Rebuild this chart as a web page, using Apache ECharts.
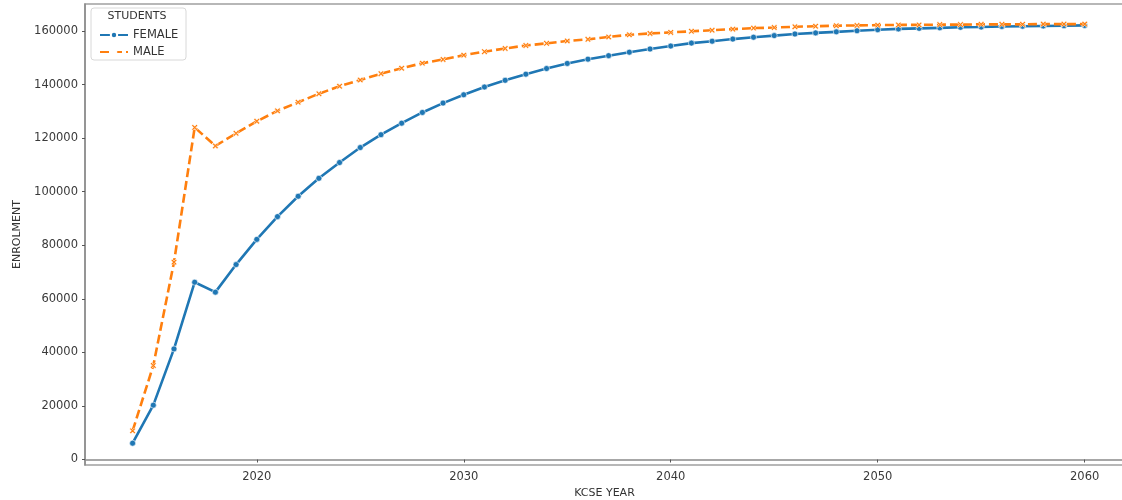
<!DOCTYPE html>
<html>
<head>
<meta charset="utf-8">
<script src="https://cdn.jsdelivr.net/npm/echarts@6/dist/echarts.min.js"></script>
<style>
  html, body { margin: 0; padding: 0; background: #fff; }
  #chart { width: 1122px; height: 500px; }
</style>
</head>
<body>
<div id="chart"></div>
<script>
// KCSE year, 2014 .. 2060
const years = [];
for (let y = 2014; y <= 2060; y++) years.push(y);

const female = [
  6100, 20300, 41300, 66200, 62500, 72800, 82200, 90700, 98300, 105000,
  110900, 116500, 121300, 125600, 129600, 133100, 136200, 139100, 141600, 143900,
  146000, 147900, 149500, 150800, 152100, 153300, 154400, 155500, 156200, 157000,
  157700, 158300, 158900, 159300, 159700, 160100, 160500, 160800, 161000, 161200,
  161400, 161500, 161700, 161800, 161900, 162000, 162100
];
const male = [
  10700, 35100, 73700, 124000, 117100, 121800, 126300, 130200, 133400, 136600,
  139400, 141700, 144100, 146100, 148000, 149400, 151000, 152300, 153500, 154600,
  155400, 156300, 156900, 157800, 158600, 159100, 159500, 159900, 160300, 160700,
  161100, 161300, 161600, 161800, 162000, 162100, 162200, 162300, 162300, 162400,
  162400, 162500, 162500, 162500, 162600, 162600, 162600
];
const xTicks = [2020, 2030, 2040, 2050, 2060];
const yTicks = [0, 20000, 40000, 60000, 80000, 100000, 120000, 140000, 160000];

const blue = '#1f77b4';
const orange = '#ff7f0e';
const xMarker = 'path://M2,0 L5,3 L8,0 L10,2 L7,5 L10,8 L8,10 L5,7 L2,10 L0,8 L3,5 L0,2 Z';
const font = 'DejaVu Sans';

const chart = echarts.init(document.getElementById('chart'), null, { renderer: 'canvas' });

const option = {
  backgroundColor: '#fff',
  animation: false,
  textStyle: { fontFamily: font },
  grid: {
    left: 85, right: -2, top: 4, bottom: 35,
    outerBoundsMode: 'none',
    containLabel: false,
    show: true, borderColor: '#a0a0a0', borderWidth: 1.5
  },
  graphic: [
    {
      type: 'rect',
      shape: { x: 91, y: 8, width: 95, height: 52, r: 3 },
      style: { fill: 'rgba(255,255,255,0.8)', stroke: '#d8d8d8', lineWidth: 1 },
      z: 5
    },
    {
      type: 'text',
      x: 137, y: 16,
      style: { text: 'STUDENTS', fontFamily: font, fontSize: 11, fill: '#333', align: 'center', verticalAlign: 'middle' },
      z: 6
    }
  ],
  legend: {
    left: 94, top: 24,
    orient: 'vertical',
    itemWidth: 28, itemHeight: 8, itemGap: 5,
    textStyle: { fontFamily: font, fontSize: 11.5, color: '#333' },
    data: ['FEMALE', 'MALE'],
    z: 7
  },
  xAxis: {
    type: 'value',
    min: 2011.7, max: 2061.9,
    name: 'KCSE YEAR',
    nameLocation: 'middle',
    nameGap: 22,
    nameTextStyle: { fontFamily: font, fontSize: 11, color: '#333' },
    axisLine: { lineStyle: { color: '#8a8a8a', width: 1.5 } },
    axisTick: { show: true, length: 3, customValues: xTicks, lineStyle: { color: '#555' } },
    axisLabel: { customValues: xTicks, formatter: v => String(v), fontFamily: font, fontSize: 11.5, color: '#3a3a3a', margin: 6 },
    splitLine: { show: false }
  },
  yAxis: {
    type: 'value',
    min: -2050, max: 170100,
    name: 'ENROLMENT',
    nameLocation: 'middle',
    nameGap: 62,
    nameTextStyle: { fontFamily: font, fontSize: 11, color: '#333' },
    axisLine: { show: true, lineStyle: { color: '#8a8a8a', width: 1.5 } },
    axisTick: { show: true, length: 3, customValues: yTicks, lineStyle: { color: '#555' } },
    axisLabel: { customValues: yTicks, formatter: v => String(v), fontFamily: font, fontSize: 11.5, color: '#3a3a3a', margin: 7 },
    splitLine: { show: false }
  },
  series: [
    {
      name: 'FEMALE',
      type: 'line',
      data: years.map((y, i) => [y, female[i]]),
      color: blue,
      symbol: 'circle',
      symbolSize: 6,
      showSymbol: true,
      lineStyle: { width: 2.6, color: blue },
      itemStyle: { color: blue, borderColor: '#fff', borderWidth: 0.6 },
      z: 2
    },
    {
      name: 'MALE',
      type: 'line',
      data: years.map((y, i) => [y, male[i]]),
      color: orange,
      symbol: xMarker,
      symbolSize: 6,
      showSymbol: true,
      lineStyle: { width: 2.6, color: orange, type: [9, 4] },
      itemStyle: { color: orange, borderColor: '#fff', borderWidth: 0.6 },
      z: 3
    }
  ]
};

chart.setOption(option);
</script>
</body>
</html>
